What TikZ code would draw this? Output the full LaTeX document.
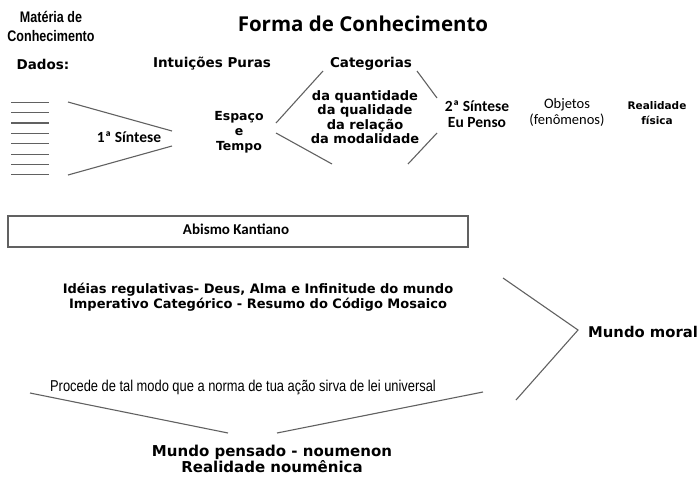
\documentclass[tikz,border=0pt]{standalone}
\usepackage{fontspec}
\setmainfont{DejaVu Sans}
\newfontfamily\calib{Carlito}
\newfontfamily\opens{Open Sans}
\newfontfamily\narrowf[FakeStretch=0.82]{Liberation Sans}
\tikzset{
  txt/.style={inner sep=0pt,align=center},
  vb/.style={txt,font=\bfseries\fontsize{13}{15}\selectfont},
  cb/.style={txt,font=\calib\bfseries\fontsize{15.5}{16}\selectfont},
  brk/.style={draw=black!62,line width=1.1pt},
}
\begin{document}
\begin{tikzpicture}[x=1pt,y=-1pt]
    \useasboundingbox (0,0) rectangle (699,477);
    \node[txt,font=\narrowf\bfseries\fontsize{15.3}{19}\selectfont] (materia) at (51,26) {Matéria de\\Conhecimento};
    \node[txt,font=\opens\bfseries\fontsize{20.5}{22}\selectfont] (title) at (363,24) {Forma de Conhecimento};
    \node[vb,font=\bfseries\fontsize{13.5}{15}\selectfont] (dados) at (43,64) {Dados:};
    \node[vb,font=\bfseries\fontsize{13.5}{15}\selectfont] (intuicoes) at (212,64) {Intuições Puras};
    \node[vb,font=\bfseries\fontsize{13.5}{15}\selectfont] (categorias) at (371,64) {Categorias};
    \foreach \i in {0,...,7}
        \draw[brk] (11,102.3+10.35*\i) -- (49,102.3+10.35*\i);
    \node[cb] (sintese1) at (129,137) {1ª Síntese};
    \node[vb,font=\bfseries\fontsize{12.5}{15}\selectfont] (espaco) at (239,132) {Espaço\\e\\Tempo};
    \node[vb,font=\bfseries\fontsize{13}{14.5}\selectfont] (itens) at (365,117) {da quantidade\\da qualidade\\da relação\\da modalidade};
    \node[cb] (sintese2) at (477,114) {2ª Síntese\\Eu Penso};
    \node[txt,font=\calib\fontsize{14.5}{16}\selectfont] (objetos) at (567,112) {Objetos\\(fenômenos)};
    \node[vb,font=\bfseries\fontsize{10.5}{15}\selectfont] (realidade) at (657,113) {Realidade\\física};

    \coordinate (d1) at (68,102);  \coordinate (d2) at (172,131);
    \coordinate (d3) at (68,175);  \coordinate (d4) at (172,146);
    \coordinate (e1) at (276,123); \coordinate (e2) at (323,71);
    \coordinate (e3) at (276,133); \coordinate (e4) at (332,164);
    \coordinate (c1) at (417,71);  \coordinate (c2) at (437,98);
    \coordinate (c3) at (437,133); \coordinate (c4) at (408,164);
    \draw[brk] (d1) -- (d2);
    \draw[brk] (d3) -- (d4);
    \draw[brk] (e1) -- (e2);
    \draw[brk] (e3) -- (e4);
    \draw[brk] (c1) -- (c2);
    \draw[brk] (c3) -- (c4);

    \draw[brk,line width=1.3pt] (8,216) rectangle (468,247);
    \node[cb,font=\calib\bfseries\fontsize{15}{16}\selectfont] (abismo) at (236,229) {Abismo Kantiano};

    \node[vb,font=\bfseries\fontsize{13}{15}\selectfont] (ideias) at (258,297)
        {Idéias regulativas- Deus, Alma e Infinitude do mundo\\Imperativo Categórico - Resumo do Código Mosaico};
    \node[vb,font=\bfseries\fontsize{14.8}{15}\selectfont,anchor=west] (moral) at (588,332) {Mundo moral};
    \coordinate (m1) at (503,278); \coordinate (m2) at (578,330); \coordinate (m3) at (516,400);
    \draw[brk] (m1) -- (m2) -- (m3);

    \node[txt,font=\narrowf\fontsize{15.7}{16}\selectfont] (procede) at (243,387)
        {Procede de tal modo que a norma de tua ação sirva de lei universal};
    \coordinate (p1) at (30,393);  \coordinate (p2) at (228,433);
    \coordinate (p3) at (277,433); \coordinate (p4) at (483,392);
    \draw[brk] (p1) -- (p2);
    \draw[brk] (p3) -- (p4);
    \node[vb,font=\bfseries\fontsize{15}{16}\selectfont] (pensado) at (272,459) {Mundo pensado - noumenon\\Realidade noumênica};
\end{tikzpicture}
\end{document}
